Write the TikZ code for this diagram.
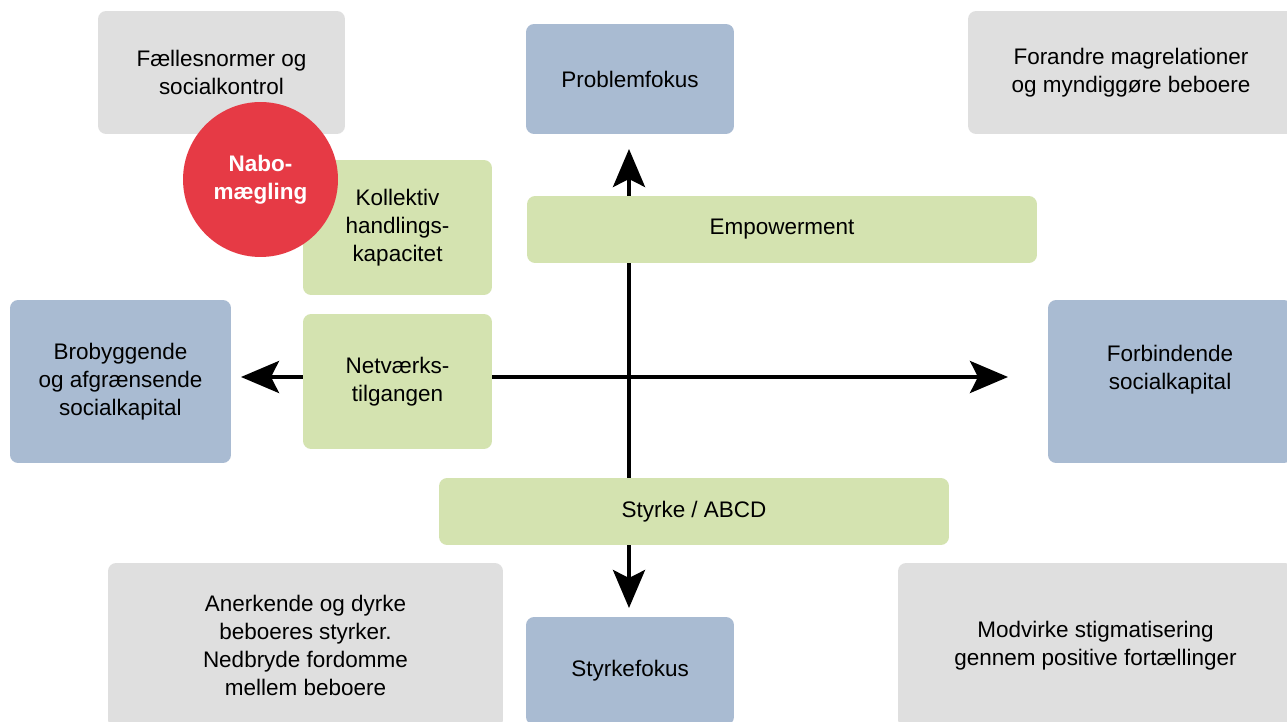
\documentclass[tikz,border=0pt]{standalone}
\usepackage{fontspec}
\setmainfont{Liberation Sans}
\usepackage{xcolor}
\usetikzlibrary{arrows.meta}

\definecolor{boxgray}{HTML}{DFDFDF}
\definecolor{boxblue}{HTML}{A9BBD2}
\definecolor{boxgreen}{HTML}{D4E3B0}
\definecolor{naboRed}{HTML}{E63A45}

\tikzset{
  box/.style={rounded corners=0.16cm, inner sep=0pt, align=center,
    font=\fontsize{12.8pt}{16pt}\selectfont},
  graybox/.style={box, fill=boxgray},
  bluebox/.style={box, fill=boxblue},
  greenbox/.style={box, fill=boxgreen},
  axis/.style={line width=0.08cm, -{Stealth[length=0.76cm, width=0.64cm, inset=0.16cm]}}
}

\begin{document}
\begin{tikzpicture}[x=0.02cm, y=-0.02cm]
\useasboundingbox (0,0) rectangle (1287,722);

\coordinate (mid) at (629,377);
\coordinate (westtip) at (241,377);
\coordinate (easttip) at (1008,377);
\coordinate (northtip) at (629,149);
\coordinate (southtip) at (629,608);
\draw [axis] (mid) -- (westtip);
\draw [axis] (mid) -- (easttip);
\draw [axis] (mid) -- (northtip);
\draw [axis] (mid) -- (southtip);

\node[graybox, minimum width=4.94cm, minimum height=2.46cm] (social) at (221.5,72.5) {F\ae llesnormer og\\socialkontrol};
\node[bluebox, minimum width=4.16cm, minimum height=2.2cm] (problem) at (630,79) {Problemfokus};
\node[graybox, minimum width=6.52cm, minimum height=2.46cm] (magt) at (1131,72.5) {Forandre magrelationer\\og myndigg\o re beboere};

\node[greenbox, minimum width=3.78cm, minimum height=2.7cm] (kollektiv) at (397.5,227.5) {Kollektiv\\handlings-\\kapacitet};
\node[greenbox, minimum width=10.2cm, minimum height=1.34cm] (empower) at (782,229.5) {Empowerment};

\node[bluebox, minimum width=4.42cm, minimum height=3.26cm] (brobyg) at (120.5,381.5) {Brobyggende\\og afgr\ae nsende\\socialkapital};
\node[greenbox, minimum width=3.78cm, minimum height=2.7cm] (netvaerk) at (397.5,381.5) {Netv\ae rks-\\tilgangen};
\node[bluebox, minimum width=4.88cm, minimum height=3.26cm] (forbind) at (1170,381.5) {Forbindende\\socialkapital\\\mbox{}};

\node[greenbox, minimum width=10.2cm, minimum height=1.34cm] (styrke) at (694,511.5) {Styrke / ABCD};

\node[graybox, minimum width=7.9cm, minimum height=3.3cm] (anerkend) at (305.5,645.5) {Anerkende og dyrke\\beboeres styrker.\\Nedbryde fordomme\\mellem beboere};
\node[bluebox, minimum width=4.16cm, minimum height=2.16cm] (styrkefokus) at (630,671) {Styrkefokus};
\node[graybox, minimum width=7.9cm, minimum height=3.3cm] (stigma) at (1095.5,645.5) {Modvirke stigmatisering\\gennem positive fort\ae llinger};

\node[shape=circle, fill=naboRed, inner sep=0pt, minimum size=3.1cm, align=center,
  text=white, font=\bfseries\fontsize{12.8pt}{16pt}\selectfont] (nabo) at (260.5,179.5) {Nabo-\\m\ae gling};
\end{tikzpicture}
\end{document}
